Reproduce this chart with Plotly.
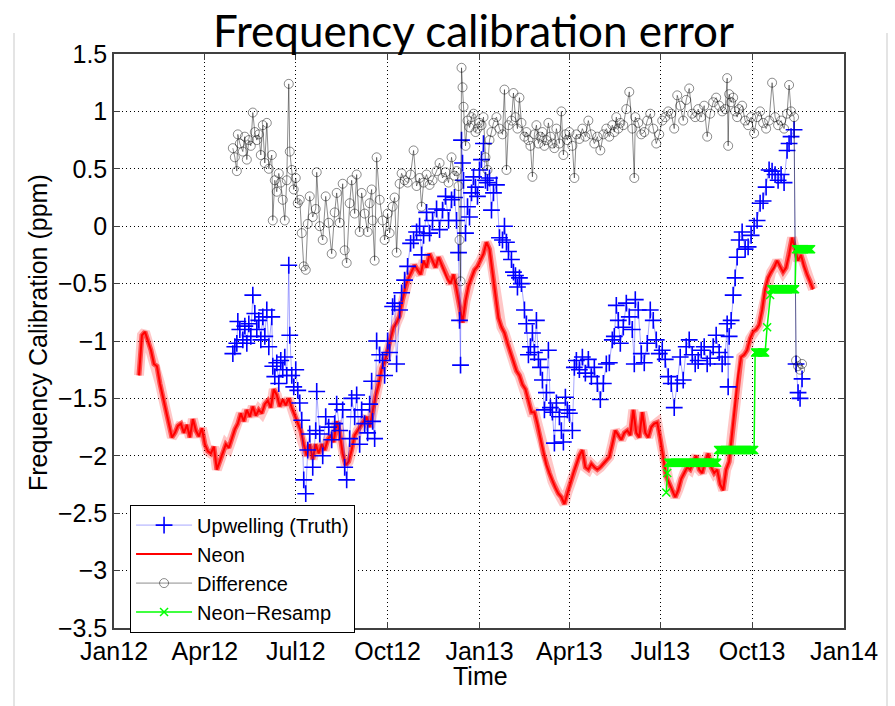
import pandas as pd
import plotly.graph_objects as go

BASE = pd.Timestamp("2012-01-01")

def to_dates(days):
    return [BASE + pd.Timedelta(days=int(d)) for d in days]

# ---------------- Neon (red), sampled every 3 days starting day 25 ----------------
neon_start_day = 25
neon_step = 3
neon_vals = [
    -1.30, -0.95, -0.92, -1.00, -1.08, -1.20, -1.22, -1.37, -1.49, -1.60,
    -1.72, -1.84, -1.80, -1.74, -1.72, -1.80, -1.73, -1.84, -1.68, -1.78,
    -1.83, -1.76, -1.90, -1.96, -1.98, -1.92, -2.12, -2.05, -1.98, -1.90,
    -1.93, -1.84, -1.77, -1.72, -1.63, -1.70, -1.60, -1.66, -1.57, -1.65,
    -1.60, -1.63, -1.55, -1.52, -1.58, -1.42, -1.47, -1.57, -1.51, -1.56,
    -1.50, -1.58, -1.65, -1.72, -1.78, -1.90, -2.00, -1.90, -2.03, -1.90,
    -1.98, -1.90, -1.95, -1.86, -1.82, -1.88, -1.70, -1.80, -1.98, -2.08,
    -2.05, -1.95, -1.82, -1.78, -1.74, -1.70, -1.66, -1.75, -1.60, -1.48,
    -1.38, -1.24, -1.18, -1.08, -1.00, -0.88, -0.84, -0.78, -0.64, -0.52,
    -0.45, -0.40, -0.34, -0.38, -0.42, -0.30, -0.36, -0.24, -0.30, -0.36,
    -0.27, -0.33, -0.40, -0.46, -0.50, -0.42, -0.55, -0.70, -0.84, -0.65,
    -0.52, -0.45, -0.38, -0.35, -0.30, -0.24, -0.14, -0.20, -0.40, -0.60,
    -0.80, -0.88, -0.93, -1.02, -1.10, -1.20, -1.26, -1.30, -1.38, -1.42,
    -1.52, -1.62, -1.62, -1.72, -1.85, -1.98, -2.08, -2.15, -2.22, -2.28,
    -2.33, -2.36, -2.42, -2.32, -2.24, -2.15, -2.07, -2.00, -1.95, -2.10,
    -2.12, -2.07, -2.10, -2.12, -2.10, -2.07, -2.04, -2.01, -1.90, -1.78,
    -1.82, -1.86, -1.80, -1.78, -1.82, -1.60, -1.80, -1.84, -1.62, -1.80,
    -1.84, -1.75, -1.72, -1.71, -1.85, -2.00, -2.18, -2.24, -2.30, -2.36,
    -2.30, -2.20, -2.15, -2.10, -2.12, -2.05, -2.00, -2.12, -2.15, -2.05,
    -1.98, -2.10, -2.15, -2.12, -2.25, -2.30, -2.12, -2.05, -1.80, -1.55,
    -1.30, -1.14, -1.12, -1.08, -0.98, -0.92, -0.90, -0.86, -0.73, -0.55,
    -0.45, -0.40, -0.36, -0.30, -0.35, -0.40, -0.36, -0.25, -0.10, -0.20,
    -0.30, -0.25, -0.35, -0.42, -0.48, -0.55,
]
neon_days = [neon_start_day + neon_step * i for i in range(len(neon_vals))]

# ---------------- Upwelling (blue) and Difference (black) ----------------
up_days = [
    119, 121, 123, 124, 126, 129, 131, 133, 135, 137, 139, 141, 143, 145, 147, 149, 151, 153, 155, 158,
    159, 161, 163, 165, 167, 169, 171, 173, 175, 176, 178, 180, 182, 184, 186, 188, 190, 192, 194, 196,
    199, 202, 203, 206, 209, 212, 215, 218, 221, 223, 226, 229, 231, 233, 236, 238, 241, 243, 246, 248,
    251, 254, 256, 258, 259, 261, 263, 266, 269, 271, 274, 276, 279, 281, 283, 286, 288, 291, 294, 297,
    300, 303, 306, 308, 310, 313, 316, 319, 323, 326, 329, 332, 335, 338, 341, 343, 345, 346, 347, 348,
    349, 350, 352, 354, 356, 358, 360, 362, 364, 366, 368, 370, 372, 374, 376, 378, 380, 383, 386, 389,
    391, 393, 395, 398, 400, 402, 404, 406, 408, 411, 413, 415, 417, 419, 421, 423, 425, 427, 429, 431,
    433, 435, 437, 439, 441, 443, 446, 448, 450, 452, 454, 456, 459, 461, 463, 466, 469, 472, 475, 478,
    481, 484, 487, 490, 493, 496, 499, 501, 503, 505, 507, 510, 513, 516, 519, 521, 522, 525, 528, 531,
    534, 537, 540, 543, 546, 549, 552, 555, 558, 561, 564, 567, 570, 573, 576, 579, 582, 585, 588, 591,
    594, 597, 600, 603, 606, 609, 612, 614, 615, 616, 618, 620, 622, 624, 626, 629, 632, 635, 638, 641,
    644, 647, 650, 653, 656, 659, 662, 665, 668, 671, 674, 676, 678, 681, 683, 685, 687, 689,
]
up_vals = [
    -1.11, -1.05, -1.02, -0.83, -0.90, -0.99, -0.87, -1.02, -0.85, -0.96, -0.60, -0.76, -0.90, -0.82, -0.99, -0.79, -0.96, -0.73, -1.05, -0.79,
    -1.22, -1.31, -1.19, -1.37, -1.17, -1.25, -1.14, -1.30, -0.34, -0.95, -1.30, -1.40, -1.25, -1.43, -1.54, -1.69, -2.21, -2.33, -1.95, -1.81,
    -2.10, -1.78, -1.44, -1.81, -2.00, -1.66, -1.75, -1.86, -1.72, -1.55, -1.78, -1.60, -2.10, -2.21, -1.85, -1.50, -1.66, -1.47, -1.90, -1.60,
    -1.72, -1.80, -1.55, -1.35, -1.70, -1.85, -1.00, -1.12, -1.17, -1.30, -1.00, -1.10, -0.70, -0.67, -1.20, -0.73, -0.58, -0.47, -0.35, -0.15,
    -0.12, -0.05, 0.00, -0.25, -0.08, 0.12, -0.06, 0.05, 0.15, -0.03, 0.14, 0.26, 0.05, 0.23, 0.25, 0.05, -0.23, -0.82, -1.21, 0.75,
    0.55, 0.40, -0.06, 0.17, 0.08, 0.29, 0.43, 0.34, 0.26, 0.49, 0.58, 0.72, 0.40, 0.38, 0.42, 0.14, 0.29, 0.36, -0.10, -0.12,
    0.00, -0.14, -0.22, -0.29, -0.40, -0.43, -0.53, -0.45, -0.50, -0.73, -0.85, -1.12, -1.05, -0.93, -1.10, -0.82, -1.16, -1.23, -1.34, -1.60,
    -1.45, -1.08, -1.58, -1.62, -1.89, -1.54, -1.66, -1.78, -1.88, -1.49, -1.60, -1.63, -1.78, -1.23, -1.17, -1.25, -1.14, -1.28, -1.16, -1.31,
    -1.23, -1.37, -1.51, -1.37, -1.20, -1.19, -0.99, -0.96, -0.69, -0.82, -1.02, -0.88, -0.67, -0.79, -0.90, -1.20, -0.64, -0.73, -1.11, -1.19,
    -1.02, -0.73, -0.82, -0.99, -1.11, -1.08, -1.16, -1.31, -1.37, -1.58, -1.37, -1.14, -1.34, -1.05, -0.99, -1.12, -1.20, -1.17, -1.08, -1.05,
    -1.20, -1.15, -1.05, -0.95, -1.10, -1.20, -1.14, -0.85, -1.40, -0.96, -0.82, -0.60, -0.45, -0.27, -0.12, -0.05, -0.20, -0.18, -0.08, 0.00,
    0.05, 0.20, 0.22, 0.34, 0.49, 0.48, 0.45, 0.40, 0.45, 0.38, 0.66, 0.72, 0.78, 0.84, -1.20, -1.45, -1.50, -1.33,
]
diff_vals = [
    0.68, 0.60, 0.48, 0.80, 0.72, 0.65, 0.78, 0.58, 0.75, 0.70, 0.99, 0.82, 0.75, 0.80, 0.62, 0.88, 0.55, 0.90, 0.50, 0.62,
    0.05, 0.40, 0.30, 0.46, 0.38, 0.23, 0.05, 0.40, 1.24, 0.65, 0.49, 0.32, 0.42, 0.20, 0.23, -0.06, -0.35, -0.38, 0.02, 0.26,
    0.08, 0.15, 0.47, 0.00, -0.12, 0.26, 0.03, -0.24, 0.12, 0.29, 0.03, 0.37, -0.21, -0.32, 0.20, 0.40, 0.11, 0.45, -0.05, 0.29,
    0.11, -0.05, 0.20, 0.32, 0.05, -0.30, 0.60, 0.23, 0.05, -0.12, 0.11, -0.06, 0.17, 0.25, -0.23, 0.37, 0.46, 0.40, 0.38, 0.45,
    0.66, 0.35, 0.42, 0.17, 0.38, 0.45, 0.36, 0.40, 0.48, 0.55, 0.42, 0.47, 0.38, 0.60, 0.44, 0.48, 0.35, -0.12, -0.48, 1.38,
    1.21, 1.04, 0.70, 0.92, 0.86, 0.95, 0.98, 0.82, 0.85, 0.90, 0.88, 0.95, 0.60, 0.49, 0.75, 0.82, 0.90, 0.95, 0.85, 0.80,
    1.19, 0.49, 0.88, 0.92, 1.16, 0.95, 0.85, 1.12, 0.90, 0.78, 0.82, 0.75, 0.70, 0.43, 0.80, 0.88, 0.72, 0.78, 0.82, 0.70,
    0.75, 0.90, 0.78, 0.72, 0.68, 0.85, 0.72, 1.00, 0.62, 0.80, 0.75, 0.82, 0.70, 0.42, 0.80, 0.76, 0.85, 0.78, 0.92, 0.80,
    0.72, 0.78, 0.66, 0.80, 0.85, 0.78, 0.88, 0.82, 0.95, 0.85, 0.90, 0.88, 1.02, 1.17, 0.85, 0.42, 0.95, 0.90, 0.80, 0.82,
    0.92, 0.98, 0.85, 0.72, 0.80, 0.92, 0.95, 1.00, 0.98, 0.85, 1.14, 1.05, 0.92, 1.10, 1.20, 0.98, 0.95, 1.02, 0.95, 1.05,
    0.78, 0.98, 1.08, 1.12, 1.05, 1.00, 1.02, 1.29, 0.70, 1.15, 1.08, 1.12, 1.00, 0.95, 1.02, 1.05, 0.92, 0.88, 0.95, 0.81,
    0.95, 1.00, 0.90, 0.85, 0.92, 1.25, 0.95, 0.88, 0.92, 0.85, 0.98, 1.23, 1.00, 0.95, -1.17, -1.22, -1.25, -1.20,
]

# ---------------- Neon-Resamp (green) step levels ----------------
resamp_start = [553, 554, 555, 605, 642, 654, 657, 658, 683]
resamp_end = [553, 554, 604, 641, 652, 654, 657, 682, 698]
resamp_level = [-2.32, -2.15, -2.06, -1.95, -1.10, -0.88, -0.60, -0.55, -0.20]
resamp_days, resamp_vals = [], []
for s, e, lv in zip(resamp_start, resamp_end, resamp_level):
    for d in range(s, e + 1):
        resamp_days.append(d)
        resamp_vals.append(lv)

# ---------------- ticks ----------------
x_tick_dates = ["2012-01-01", "2012-04-01", "2012-07-01", "2012-10-01", "2013-01-01",
                "2013-04-01", "2013-07-01", "2013-10-01", "2014-01-01"]
x_tick_text = ["Jan12", "Apr12", "Jul12", "Oct12", "Jan13", "Apr13", "Jul13", "Oct13", "Jan14"]
y_tick_vals = [1.5, 1, 0.5, 0, -0.5, -1, -1.5, -2, -2.5, -3, -3.5]
y_tick_text = ["1.5", "1", "0.5", "0", "\u22120.5", "\u22121", "\u22121.5", "\u22122",
               "\u22122.5", "\u22123", "\u22123.5"]

FONT = "Liberation Sans, Arial, Helvetica, sans-serif"

fig = go.Figure()

neon_x = to_dates(neon_days)
fig.add_trace(go.Scatter(x=neon_x, y=neon_vals, mode="lines",
                         line=dict(color="rgba(255,0,0,0.22)", width=10),
                         showlegend=False, hoverinfo="skip"))
fig.add_trace(go.Scatter(x=neon_x, y=neon_vals, mode="lines",
                         line=dict(color="rgba(255,0,0,0.6)", width=5),
                         showlegend=False, hoverinfo="skip"))
fig.add_trace(go.Scatter(x=neon_x, y=neon_vals, mode="lines", name="Neon",
                         line=dict(color="#ff0000", width=2), legendrank=2))

up_x = to_dates(up_days)
fig.add_trace(go.Scatter(x=up_x, y=up_vals, mode="lines+markers", name="Upwelling (Truth)",
                         line=dict(color="rgba(0,0,255,0.35)", width=1),
                         marker=dict(symbol="cross-thin", size=12, color="#0000ff",
                                     line=dict(color="#0000ff", width=1.6)),
                         legendrank=1))
fig.add_trace(go.Scatter(x=up_x, y=diff_vals, mode="lines+markers", name="Difference",
                         line=dict(color="rgba(0,0,0,0.45)", width=1),
                         marker=dict(symbol="circle-open", size=9, color="rgba(0,0,0,0.45)",
                                     line=dict(color="rgba(0,0,0,0.45)", width=1)),
                         legendrank=3))
fig.add_trace(go.Scatter(x=to_dates(resamp_days), y=resamp_vals, mode="lines+markers",
                         name="Neon\u2212Resamp",
                         line=dict(color="#00ff00", width=1.5),
                         marker=dict(symbol="x-thin", size=8, color="#00ff00",
                                     line=dict(color="#00ff00", width=1.5)),
                         legendrank=4))

axis_common = dict(showgrid=True, gridcolor="black", gridwidth=1, griddash="1px,3px",
                   showline=True, linecolor="#404040", linewidth=1.5, mirror="ticks",
                   ticks="inside", ticklen=6, tickcolor="#404040", zeroline=False,
                   automargin=False,
                   tickfont=dict(family=FONT, size=25, color="black"))

fig.update_xaxes(type="date", range=["2012-01-01", "2014-01-01"],
                 tickvals=x_tick_dates, ticktext=x_tick_text, **axis_common)
fig.update_yaxes(range=[-3.5, 1.5], tickvals=y_tick_vals, ticktext=y_tick_text, **axis_common)

fig.update_layout(
    width=895, height=706,
    margin=dict(l=114, r=51, t=54, b=78, autoexpand=False),
    paper_bgcolor="white", plot_bgcolor="white",
    font=dict(family=FONT, size=20, color="black"),
    legend=dict(x=0.022, y=0.215, xanchor="left", yanchor="top",
                bgcolor="white", bordercolor="black", borderwidth=1,
                font=dict(family=FONT, size=20, color="black"),
                itemwidth=56, tracegroupgap=0),
    annotations=[
        dict(text="Frequency calibration error", x=0.4918, y=1.0906, xref="paper", yref="paper",
             xanchor="center", yanchor="top", showarrow=False,
             font=dict(family="Lato, Open Sans, sans-serif", size=44, color="black")),
        dict(text="Time", x=0.5027, y=-0.0836, xref="paper", yref="paper",
             xanchor="center", yanchor="middle", showarrow=False,
             font=dict(family=FONT, size=25, color="black")),
        dict(text="Frequency Calibration (ppm)", x=-0.1040, y=0.514, xref="paper", yref="paper",
             xanchor="center", yanchor="middle", showarrow=False, textangle=-90,
             font=dict(family=FONT, size=25, color="black")),
    ],
    shapes=[
        dict(type="line", xref="paper", yref="paper", x0=-0.137, x1=-0.137, y0=1.0366, y1=-0.136,
             line=dict(color="#e4e4e4", width=2)),
        dict(type="line", xref="paper", yref="paper", x0=1.0589, x1=1.0589, y0=1.0366, y1=-0.136,
             line=dict(color="#e4e4e4", width=2)),
    ],
)

fig.write_html("out.html", config={"displayModeBar": False},
               post_script="document.body.style.margin='0';")
